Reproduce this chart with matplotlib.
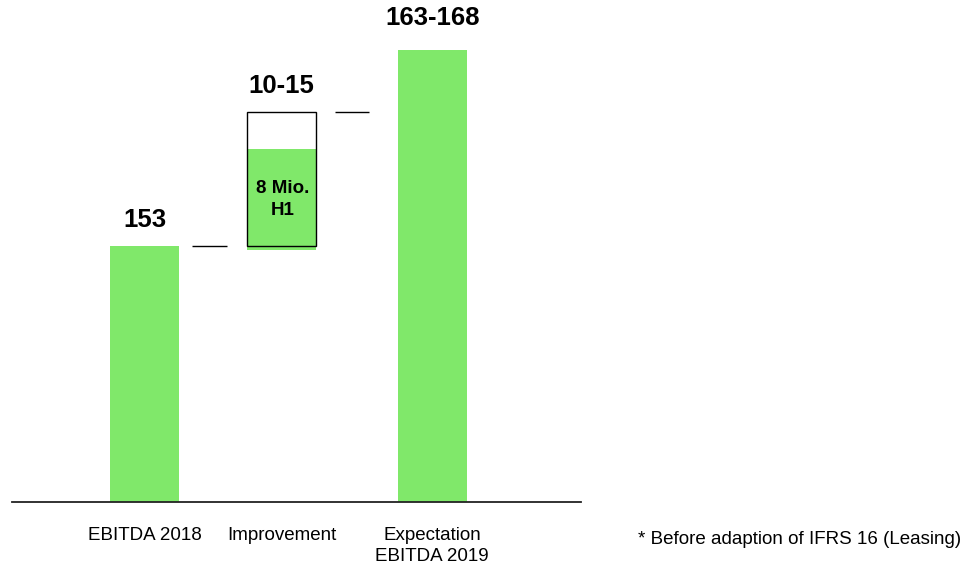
import matplotlib
matplotlib.use("Agg")
from matplotlib import pyplot as plt

# Data (the slide is not drawn to scale, so bar heights are the drawn heights)
categories = ["EBITDA 2018", "Improvement", "Expectation\nEBITDA 2019"]
value_labels = ["153", "10-15", "163-168"]
positions = [0, 1, 2.1]
ebitda_2018 = 153
improvement_range = [153, 233.4]     # outlined box: bottom, top
h1_achieved = [150.6, 211.1]         # green part of the box: bottom, top
h1_label = "8 Mio.\nH1"
expectation_2019 = 270.3
footnote = "* Before adaption of IFRS 16 (Leasing)"

GREEN = "#80E86A"
WIDTH = 0.504

plt.rcParams["font.family"] = ["Liberation Sans", "DejaVu Sans"]

fig = plt.figure(figsize=(9.63, 5.65), dpi=100)
ax = fig.add_axes([12 / 963, (565 - 501.7) / 565, (581 - 12) / 963, 501.7 / 565])

# Bars
ax.bar(positions[0], ebitda_2018, width=WIDTH, color=GREEN)
ax.bar(positions[1], h1_achieved[1] - h1_achieved[0], bottom=h1_achieved[0],
       width=WIDTH, color=GREEN)
ax.bar(positions[1], improvement_range[1] - improvement_range[0],
       bottom=improvement_range[0], width=WIDTH, facecolor="none",
       edgecolor="black", linewidth=1)
ax.bar(positions[2], expectation_2019, width=WIDTH, color=GREEN)

# Connector lines between bars
ax.hlines(ebitda_2018, positions[0] + WIDTH / 2 + 0.095,
          positions[1] - WIDTH / 2 - 0.146, color="black", linewidth=1)
ax.hlines(improvement_range[1], positions[1] + WIDTH / 2 + 0.142,
          positions[2] - WIDTH / 2 - 0.206, color="black", linewidth=1)

# Value labels
tops = [ebitda_2018, improvement_range[1], expectation_2019]
gaps = [13.7, 13.2, 18]
for x, top, label, gap in zip(positions, tops, value_labels, gaps):
    ax.annotate(label, (x, top), xytext=(0, gap), textcoords="offset points",
                ha="center", va="baseline", fontsize=18.5, fontweight="bold")

ax.text(positions[1] + 0.01, (h1_achieved[0] + h1_achieved[1]) / 2, h1_label,
        ha="center", va="center", fontsize=13.5, fontweight="bold", linespacing=1.35)

# Axes
ax.set_xlim(-0.967, 3.186)
ax.set_ylim(0, 300.2)
ax.set_xticks(positions)
ax.set_xticklabels(categories, fontsize=13.5, linespacing=1.25)
ax.tick_params(axis="x", length=0, pad=18.5)
ax.set_yticks([])
for side in ["top", "right", "left"]:
    ax.spines[side].set_visible(False)
ax.spines["bottom"].set_linewidth(1.3)
ax.spines["bottom"].set_color("#222222")

fig.text(638 / 963, 1 - 544 / 565, footnote, fontsize=13.5, va="baseline", ha="left")

plt.savefig("out.png", dpi=100)
